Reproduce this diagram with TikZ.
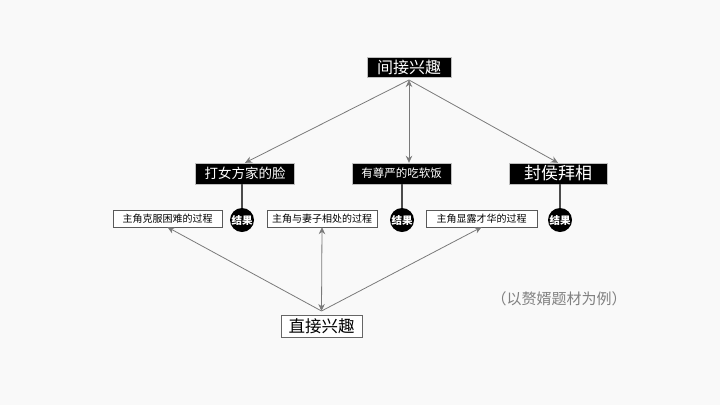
\documentclass[tikz,border=0pt]{standalone}
\usepackage{fontspec}
\setmainfont{Noto Sans CJK SC}
\usepackage{tikz}
\usetikzlibrary{arrows.meta, positioning}
\definecolor{bgc}{HTML}{F9F9F9}
\definecolor{linec}{HTML}{7A7A7A}
\newcommand{\fs}[1]{\fontsize{#1}{#1}\selectfont}

\begin{document}
\begin{tikzpicture}[
    x=1pt, y=-1pt,
    >={Stealth[length=7pt, width=6.5pt]},
    head/.style={fill=black, draw=gray!50, text=white, minimum height=21pt,
                 inner sep=0pt},
    proc/.style={fill=white, draw=black!65, minimum height=17pt, inner sep=0pt,
                 font=\fs{10}},
    res/.style={circle, fill=black, text=white, minimum size=24pt, inner sep=0pt,
                font=\fs{10.5}\bfseries},
    link/.style={draw=linec, line width=0.8pt},
    stem/.style={draw=black!70, line width=1.2pt},
]
  \fill[bgc] (0,0) rectangle (720,405);

  \node[head, minimum width=84pt, minimum height=20pt, outer sep=3pt, font=\fs{16}]
    (ind) at (409,67) {间接兴趣};

  \node[head, minimum width=99pt, font=\fs{13.5}] (face) at (245,173.5) {打女方家的脸};
  \node[head, minimum width=99pt, font=\fs{11.5}] (meal) at (401.5,173.5) {有尊严的吃软饭};
  \node[head, minimum width=98pt, font=\fs{17}] (rank) at (558,173.5) {封侯拜相};

  \node[res] (r1) at (242,220) {结果};
  \node[res] (r2) at (402,220) {结果};
  \node[res] (r3) at (560,220) {结果};

  \node[proc, minimum width=109pt] (hard) at (167.5,218.5) {主角克服困难的过程};
  \node[proc, minimum width=110pt] (wife) at (322,218.5) {主角与妻子相处的过程};
  \node[proc, minimum width=111pt] (talent) at (481.5,218.5) {主角显露才华的过程};

  \node[fill=white, draw=black!60, minimum width=81pt, minimum height=22pt,
        inner sep=0pt, outer sep=4pt, font=\fs{16.5}] (dir) at (321.5,326) {直接兴趣};

  \node[text=black!50, font=\fs{15}] (note) at (559,299) {（以赘婿题材为例）};

  \draw[link, ->] (ind.south) -- (face.north);
  \draw[link, <->] (ind.south) -- (ind.south |- meal.north);
  \draw[link, ->] (ind.south) -- (rank.north);

  \draw[stem] (r1 |- face.south) -- (r1);
  \draw[stem] (r2 |- meal.south) -- (r2);
  \draw[stem] (r3 |- rank.south) -- (r3);

  \draw[link, ->] (dir.north) -- (hard.south);
  \draw[link, <->] (dir.north) -- (wife.south);
  \draw[link, ->] (dir.north) -- (talent.south);
\end{tikzpicture}
\end{document}
